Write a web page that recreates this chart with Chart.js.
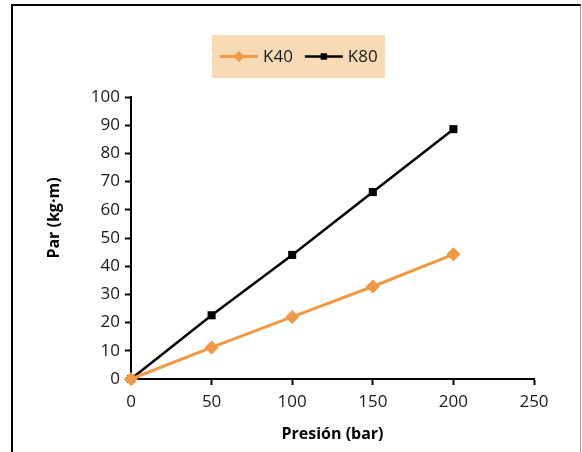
<!DOCTYPE html>
<html>
<head>
<meta charset="utf-8">
<script src="https://cdn.jsdelivr.net/npm/chart.js@4.4.0/dist/chart.umd.min.js"></script>
<style>
  body { margin: 0; background: #fff; }
  #wrap { position: relative; width: 582px; height: 452px; overflow: hidden; }
  #frame {
    position: absolute; left: 11px; top: 4px; width: 567px; height: 500px;
    border-top: 2px solid #000; border-left: 2px solid #000; border-right: 1px solid #999;
  }
  #priceChart { position: absolute; left: 0; top: 0; }
</style>
</head>
<body>
<div id="wrap">
  <div id="frame"></div>
  <canvas id="priceChart" width="582" height="452"></canvas>
</div>
<script>
// data
const presion = [0, 50, 100, 150, 200];
const k40 = [0, 11.2, 22, 32.8, 44.2];
const k80 = [0, 22.6, 44, 66.3, 88.6];
const xTicks = [0, 50, 100, 150, 200, 250];
const yTicks = [0, 10, 20, 30, 40, 50, 60, 70, 80, 90, 100];

const orange = '#F09A45';
const fontFamily = '"Open Sans", "DejaVu Sans", sans-serif';

function toPoints(values) {
  return presion.map((p, i) => ({ x: p, y: values[i] }));
}

// legend drawn as a shaded box with line + marker samples
const boxLegend = {
  id: 'boxLegend',
  afterDraw(chart, args, opts) {
    const c = chart.ctx;
    c.save();
    c.fillStyle = opts.background;
    c.fillRect(opts.x, opts.y, opts.w, opts.h);
    c.font = `${opts.fontSize}px ${fontFamily}`;
    c.textBaseline = 'middle';
    c.textAlign = 'left';
    let cx = opts.x + 8;
    const cy = opts.y + opts.h / 2;
    chart.data.datasets.forEach(ds => {
      c.strokeStyle = ds.borderColor;
      c.lineWidth = ds.borderWidth;
      c.beginPath();
      c.moveTo(cx, cy);
      c.lineTo(cx + 38, cy);
      c.stroke();
      c.fillStyle = ds.pointBackgroundColor;
      Chart.helpers.drawPoint(c, { pointStyle: ds.pointStyle, radius: ds.pointRadius * 0.8, borderWidth: 0 }, cx + 19, cy);
      c.fillStyle = '#1a1a1a';
      c.fillText(ds.label, cx + 43, cy + 1);
      cx += 43 + c.measureText(ds.label).width + 12;
    });
    c.restore();
  }
};

const ctx = document.getElementById('priceChart').getContext('2d');
const chart = new Chart(ctx, {
  type: 'scatter',
  data: {
    datasets: [
      {
        label: 'K40',
        data: toPoints(k40),
        showLine: true,
        borderColor: orange,
        borderWidth: 3,
        pointStyle: 'rectRot',
        pointRadius: 7,
        pointBackgroundColor: orange,
        pointBorderWidth: 0,
        clip: false
      },
      {
        label: 'K80',
        data: toPoints(k80),
        showLine: true,
        borderColor: '#000',
        borderWidth: 2.5,
        pointStyle: 'rect',
        pointRadius: 5.7,
        pointBackgroundColor: '#000',
        pointBorderWidth: 0,
        clip: false
      }
    ]
  },
  options: {
    responsive: false,
    animation: false,
    layout: { padding: { left: 40, right: 48, top: 97, bottom: 8 } },
    plugins: {
      legend: { display: false },
      tooltip: { enabled: false },
      boxLegend: { x: 212, y: 35, w: 173, h: 43, background: '#F8DAB4', fontSize: 17 }
    },
    scales: {
      x: {
        type: 'linear',
        min: 0,
        max: 250,
        afterBuildTicks: axis => { axis.ticks = xTicks.map(v => ({ value: v })); },
        afterFit: axis => { axis.height = 65; },
        grid: { drawOnChartArea: false, drawTicks: true, tickLength: 6, tickWidth: 2, tickColor: '#000' },
        border: { color: '#000', width: 2 },
        ticks: { color: '#1a1a1a', padding: 7, maxRotation: 0, font: { family: fontFamily, size: 17 } },
        title: {
          display: true,
          text: 'Presión (bar)',
          color: '#000',
          padding: { top: 0, bottom: 0 },
          font: { family: fontFamily, size: 16, weight: 'bold' }
        }
      },
      y: {
        type: 'linear',
        min: 0,
        max: 100,
        afterBuildTicks: axis => { axis.ticks = yTicks.map(v => ({ value: v })); },
        afterFit: axis => { axis.width = 91; },
        grid: { drawOnChartArea: false, drawTicks: true, tickLength: 6, tickWidth: 2, tickColor: '#000' },
        border: { color: '#000', width: 2 },
        ticks: { color: '#1a1a1a', padding: 5, font: { family: fontFamily, size: 17 } },
        title: {
          display: true,
          // leading spaces nudge the rotated title up a little, as in the original
          text: '\u2003\u2003\u2002Par (kg·m)',
          color: '#000',
          padding: { top: 5, bottom: 0 },
          font: { family: fontFamily, size: 16, weight: 'bold' }
        }
      }
    }
  },
  plugins: [boxLegend]
});
</script>
</body>
</html>
